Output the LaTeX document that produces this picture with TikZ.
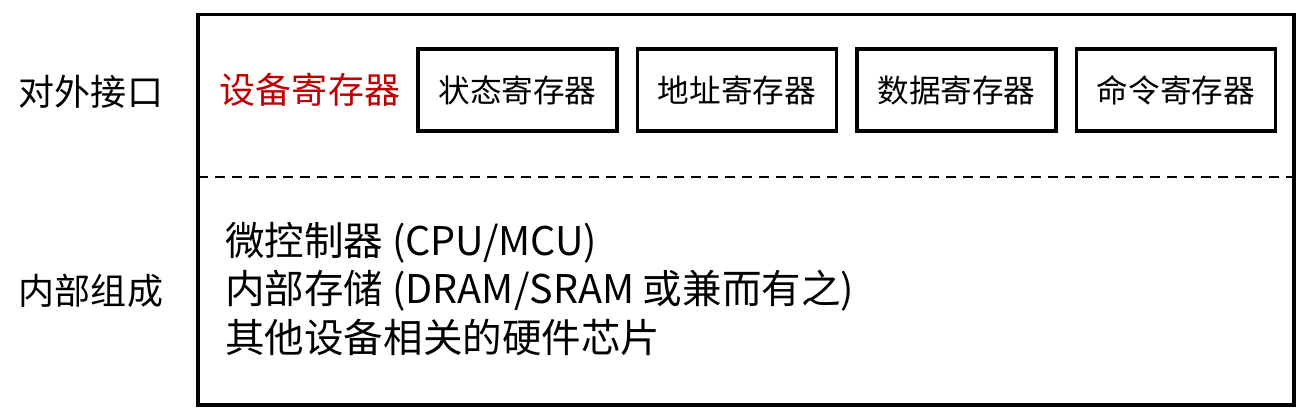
\documentclass[tikz,border=0pt]{standalone}
\usepackage{fontspec}
\setmainfont{Noto Sans CJK SC}
\usetikzlibrary{positioning}
\definecolor{regred}{HTML}{C00000}
\tikzset{
  regbox/.style={draw, line width=2pt, minimum width=3.98cm, minimum height=1.64cm, inner sep=0pt, font=\fontsize{18}{20}\selectfont},
  sidelabel/.style={font=\fontsize{20.5}{24}\selectfont},
}
\begin{document}
\begin{tikzpicture}[x=0.02cm, y=-0.02cm]
  \useasboundingbox (0,0) rectangle (1315,419);
  % frame and separator
  \coordinate (topleft) at (198,14.5);
  \coordinate (botright) at (1294,405);
  \coordinate (sepL) at (198,177);
  \coordinate (sepR) at (1294,177);
  \draw[line width=2pt] (topleft) rectangle (botright);
  \draw[line width=1.3pt, dash pattern=on 0.2cm off 0.14cm] (sepL) -- (sepR);
  % left labels
  \node[sidelabel] (iface) at (91,92) {对外接口};
  \node[sidelabel] (inner) at (91,291) {内部组成};
  % registers
  \node[sidelabel, text=regred] (devreg) at (310,90) {设备寄存器};
  \node[regbox] (status) at (517.5,90) {状态寄存器};
  \node[regbox, right=0.34cm of status] (addr) {地址寄存器};
  \node[regbox, right=0.34cm of addr] (data) {数据寄存器};
  \node[regbox, right=0.34cm of data] (cmd) {命令寄存器};
  % internal parts
  \node[anchor=west, align=left, inner sep=0pt, font=\fontsize{22.5}{27.5}\selectfont] (parts) at (225,289)
    {微控制器 (CPU/MCU)\\内部存储 (DRAM/SRAM 或兼而有之)\\其他设备相关的硬件芯片};
\end{tikzpicture}
\end{document}
